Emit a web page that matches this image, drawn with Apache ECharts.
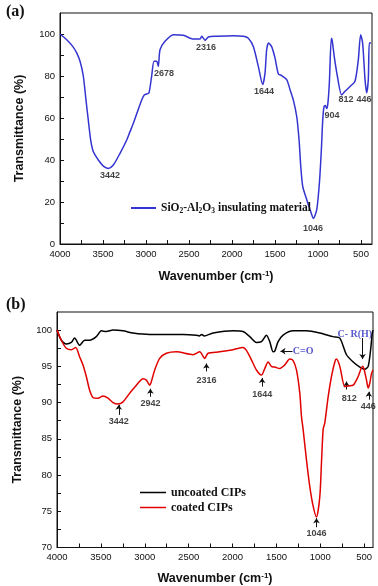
<!DOCTYPE html>
<html><head><meta charset="utf-8">
<script src="https://cdn.jsdelivr.net/npm/echarts@6/dist/echarts.min.js"></script>
<style>html,body{margin:0;padding:0;background:#fff}#c{width:378px;height:586px}</style>
</head><body><div id="c"></div>
<script>
// ---- Panel (a): SiO2-Al2O3 insulating material ----
const aWave = [4000,3922,3850,3806,3767,3729,3698,3671,3643,3613,3554,3496,3438,3380,3302,3224,3186,3147,3108,3050,3020,2992,2965,2934,2907,2876,2857,2837,2779,2682,2566,2450,2372,2352,2314,2275,2178,1984,1868,1810,1752,1694,1643,1616,1597,1574,1539,1500,1461,1422,1364,1325,1287,1247,1220,1200,1177,1130,1084,1054,1015,984,961,945,930,915,900,885,868,845,835,810,775,725,686,628,570,531,504,481,453,434,415,403,384];
const aTrans = [100,97.3,94,91,87,80,68.6,59,49.5,44,40,37.1,36,37.6,43.2,49.5,53.5,57.5,62,68.6,71,71.4,72,80,87,87,84.6,92.5,96.5,99.7,99.4,97.6,97.6,98.9,97,98.6,98.9,99.2,98.9,98,94,84.6,75.9,81.4,92.5,95.7,94,88.6,81,80.2,78.3,73.5,68.6,60.6,49.5,36.8,27.3,21,15.4,12.2,16.2,28.9,44.8,59,65.4,66,64.5,67,76.7,98,97,89,80,71,72.7,75,77.5,87.8,99.7,95.7,78.3,72,78.3,95.7,95.7];
const aPeakText = ['3442','2678','2316','1644','1046','904','812','446'];
const aPeakAt   = [[3418,32.4],[2790,81],[2302,93.8],[1627,72.4],[1058,7.6],[837,61],[674,68.6],[464,68.6]];

// ---- Panel (b): uncoated / coated CIPs ----
const bWaveUnc = [4000,3951,3894,3837,3799,3742,3685,3628,3552,3495,3438,3362,3248,3134,2944,2564,2412,2380,2350,2324,2222,1994,1880,1804,1728,1671,1614,1576,1538,1519,1481,1424,1310,1158,1006,854,778,702,626,550,493,455,428,409,400];
const bUnc     = [100,98.6,98.1,98.3,98.9,97.9,98.6,98.6,99.1,99.9,99.8,100,99.9,99.6,99.4,99.4,99.3,99.2,99.4,99.2,99.6,99.9,99.8,99.1,98.3,98.4,99.3,98.4,97,97.1,98.4,99.3,99.9,99.9,99.6,99.1,98.9,96.6,95.6,94.9,94.6,95,97.2,99.5,100];
const bWaveCoat = [4000,3951,3894,3837,3787,3742,3704,3666,3628,3590,3533,3476,3419,3362,3305,3248,3172,3096,3020,2982,2944,2925,2887,2830,2754,2640,2450,2374,2317,2279,2146,1994,1880,1842,1785,1728,1671,1633,1595,1557,1519,1462,1405,1348,1310,1272,1234,1215,1196,1158,1120,1082,1044,1006,987,968,949,911,873,835,816,778,721,683,626,569,519,504,474,455,436,417,400];
const bCoat     = [100,98.6,97.5,97.3,97.6,96.3,95.2,93.6,91.7,90.7,90.6,90.9,90.6,90,89.8,90.1,91.3,92.4,93.3,93.1,92.4,92.9,94.5,96.1,96.8,97,96.6,97,96.1,96.8,97,97.3,97.6,97.2,95.9,94.5,93.8,94.7,95.6,95,94.9,94.7,95.2,96,95.8,94.5,91.3,88.1,86.3,82.1,78.4,75.7,74.2,77,81.7,86.3,87.2,90.8,93.6,95.6,96,95,92.2,92.3,92.4,93.6,95,94.7,93.1,92,92.7,94,94.5];
const bPeakText = ['3442','2942','2316','1644','1046','812','446'];
const bPeakAt   = [[3296,87.4],[2936,89.9],[2298,93.1],[1663,91.1],[1044,71.9],[671,90.5],[455,89.4]];
const bArrows   = [[[3296,88.3],[3296,89.7]],[[2936,90.8],[2936,91.9]],[[2298,94.3],[2298,95.4]],[[1663,92.2],[1663,93.4]],[[1044,72.8],[1044,74.05]],[[702,91.8],[702,92.9]],[[447,90.4],[447,91.5]]];
const bNoteText = ['C=O','C- R(H)'];
const bNoteAt   = [[1196,97.05],[607,99.4]];
const bNoteArrows = [[[1317,97.1],[1454,97.1]],[[519,98.9],[519,96.0]]];

const xTicks = [];
for (let v = 4000; v >= 500; v -= 250) xTicks.push(v);
const xLabels = xTicks.filter(v => v % 500 === 0);

function pairs(xs, ys){ return xs.map((x,i)=>[x, ys[i]]); }

const chart = echarts.init(document.getElementById('c'), null, {renderer:'canvas'});
const sans = 'Liberation Sans, Arial, sans-serif';
const serif = 'Liberation Serif, Times New Roman, serif';
const axisText = {color:'#111', fontFamily:sans, fontSize:9.5, formatter:v=>String(v)};

function xAxis(idx, min){
  return {
    type:'value', gridIndex:idx, min:min, max:4000, inverse:true,
    axisLine:{lineStyle:{color:'#111', width:1}},
    axisTick:{inside:true, length:4, customValues:xTicks, lineStyle:{color:'#111'}},
    axisLabel:Object.assign({margin:5, customValues:xLabels}, axisText),
    splitLine:{show:false},
    name:'Wavenumber (cm{sup|-1})', nameLocation:'middle', nameGap:idx===0?26:24,
    nameTextStyle:{fontFamily:sans, fontWeight:'bold', fontSize:12.5, color:'#111',
      rich:{sup:{fontFamily:sans, fontWeight:'bold', fontSize:8, verticalAlign:'top', padding:[0,0,6,0]}}}
  };
}
function yAxis(idx, min, max, ticks, labels){
  return {
    type:'value', gridIndex:idx, min:min, max:max,
    axisLine:{show:true, lineStyle:{color:'#111', width:1}},
    axisTick:{inside:true, length:4, customValues:ticks, lineStyle:{color:'#111'}},
    axisLabel:Object.assign({margin:5, customValues:labels}, axisText),
    splitLine:{show:false},
    name:'Transmittance (%)', nameLocation:'middle', nameGap:idx===0?34:33,
    nameTextStyle:{fontFamily:sans, fontWeight:'bold', fontSize:12.5, color:'#111'}
  };
}
const aYT=[], aYL=[]; for(let v=0; v<=100; v+=10){aYT.push(v); if(v%20===0) aYL.push(v);}
const bYT=[], bYL=[]; for(let v=70; v<=100; v+=2.5){bYT.push(v); if(v%5===0) bYL.push(v);}

const peakLabel = {show:true, position:'inside', color:'#111', fontFamily:sans, fontWeight:'bold', fontSize:9,
  formatter:p=>p.data.name};

chart.setOption({
  animation:false,
  grid:[
    {left:60, right:6, top:13, height:231, show:true, borderColor:'#111', borderWidth:1, backgroundColor:'transparent'},
    {left:57, right:5, top:312, height:236, show:true, borderColor:'#111', borderWidth:1, backgroundColor:'transparent'}
  ],
  xAxis:[xAxis(0, 372), xAxis(1, 400)],
  yAxis:[yAxis(0, 0, 110, aYT, aYL), yAxis(1, 70, 102.5, bYT, bYL)],
  legend:[
    {data:['SiO2-Al2O3 insulating material'], left:126, top:197, icon:'rect', itemWidth:25, itemHeight:2, itemGap:0,
     textStyle:{fontFamily:serif, fontWeight:'bold', fontSize:11.5, color:'#111',
       rich:{n:{fontFamily:serif, fontWeight:'bold', fontSize:11.5}, s:{fontFamily:serif, fontWeight:'bold', fontSize:7.5, padding:[7,0,0,0]}}},
     formatter:()=>'{n|SiO}{s|2}{n|-Al}{s|2}{n|O}{s|3}{n| insulating material}'},
    {data:['uncoated CIPs','coated CIPs'], orient:'vertical', left:135, top:480, icon:'rect', itemWidth:26, itemHeight:1.5, itemGap:0,
     textStyle:{fontFamily:serif, fontWeight:'bold', fontSize:12, color:'#111', lineHeight:15}}
  ],
  graphic:[
    {type:'text', left:6, top:4, style:{text:'(a)', font:'bold 16px '+serif, fill:'#111'}},
    {type:'text', left:6, top:297, style:{text:'(b)', font:'bold 16px '+serif, fill:'#111'}}
  ],
  series:[
    {type:'line', name:'SiO2-Al2O3 insulating material', xAxisIndex:0, yAxisIndex:0, data:pairs(aWave,aTrans),
     showSymbol:false, smooth:0.25, color:'#3434d0', lineStyle:{width:1.5, color:'#3434d0'}},
    {type:'scatter', xAxisIndex:0, yAxisIndex:0, symbolSize:0, silent:true, label:peakLabel,
     data:aPeakText.map((t,i)=>({name:t, value:aPeakAt[i]}))},
    {type:'line', name:'uncoated CIPs', xAxisIndex:1, yAxisIndex:1, data:pairs(bWaveUnc,bUnc),
     showSymbol:false, smooth:0.25, color:'#000', lineStyle:{width:1.5, color:'#000'}},
    {type:'line', name:'coated CIPs', xAxisIndex:1, yAxisIndex:1, data:pairs(bWaveCoat,bCoat),
     showSymbol:false, smooth:0.25, color:'#e00000', lineStyle:{width:1.5, color:'#e00000'}},
    {type:'scatter', xAxisIndex:1, yAxisIndex:1, symbolSize:0, silent:true, label:peakLabel,
     data:bPeakText.map((t,i)=>({name:t, value:bPeakAt[i]}))},
    {type:'scatter', xAxisIndex:1, yAxisIndex:1, symbolSize:0, silent:true,
     label:{show:true, position:'inside', color:'#3030c0', fontFamily:serif, fontWeight:'bold', fontSize:10, formatter:p=>p.data.name},
     data:bNoteText.map((t,i)=>({name:t, value:bNoteAt[i]}))},
    {type:'lines', coordinateSystem:'cartesian2d', xAxisIndex:1, yAxisIndex:1, silent:true,
     symbol:['none','arrow'], symbolSize:5, lineStyle:{color:'#111', width:1, opacity:1},
     data:bArrows.concat(bNoteArrows).map(c=>({coords:c}))}
  ]
});
</script></body></html>
